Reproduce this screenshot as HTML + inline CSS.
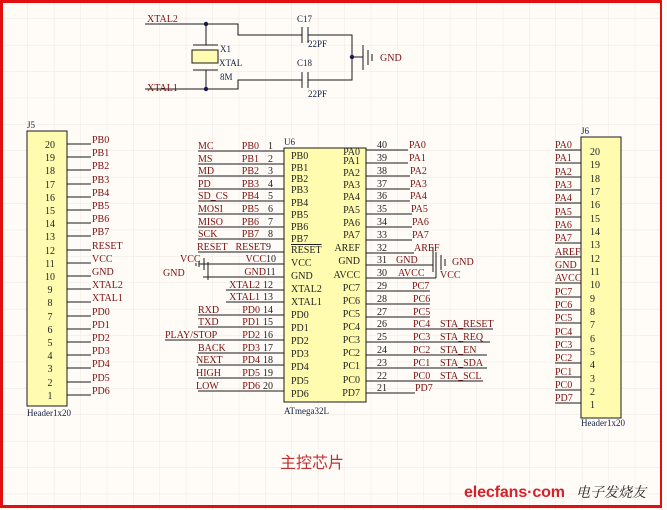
<!DOCTYPE html>
<html><head><meta charset="utf-8"><style>
html,body{margin:0;padding:0;background:#fffcf8;}
svg{display:block;}
.l{font-family:"Liberation Serif",serif;font-size:10px;fill:#7a1010;}
.n{font-family:"Liberation Serif",serif;font-size:10px;fill:#222;}
.c{font-family:"Liberation Serif",serif;font-size:9px;fill:#102040;}
</style></head><body>
<svg width="667" height="510" viewBox="0 0 667 510" xmlns="http://www.w3.org/2000/svg">
<defs><pattern id="g" x="1.6" y="-7.4" width="26.4" height="26.4" patternUnits="userSpaceOnUse"><path d="M26.4 0V26.4M0 26.4H26.4" stroke="#ece6e0" stroke-width="1" fill="none"/></pattern></defs>
<rect width="667" height="510" fill="#fffcf8"/>
<rect width="667" height="510" fill="url(#g)"/>
<rect x="1.5" y="1.5" width="660" height="505" fill="none" stroke="#e01010" stroke-width="3"/>
<rect x="662" y="0" width="5" height="510" fill="#fffcf8"/>
<g stroke="#1a1a1a" stroke-width="1" fill="none">
<path d="M145 24H238V35H302M308 35H352V80H308M302 80H238V89H145"/>
<path d="M302 27V43M308 27V43M302 72V88M308 72V88"/>
<path d="M206 24V45M193 45H218M206 70V89M193 70H218"/>
<rect x="192" y="50" width="26" height="13" fill="#fffcb0"/>
<path d="M352 57H363M363 45V70M368 50V65M372 54V61"/>
<rect x="27" y="131" width="40" height="275" fill="#fffcb0"/>
<path d="M67 144H91M67 157H91M67 170H91M67 184H91M67 197H91M67 210H91M67 223H91M67 236H91M67 250H91M67 263H91M67 276H91M67 289H91M67 302H91M67 316H91M67 329H91M67 342H91M67 355H91M67 368H91M67 382H91M67 395H91"/>
<rect x="284" y="148" width="82" height="254" fill="#fffcb0"/>
<path d="M198 151H284M198 164H284M198 176H284M198 189H284M198 201H284M198 214H284M198 227H284M198 239H284M198 252H284M204 264H284M204 277H284M226 290H284M226 302H284M198 315H284M198 327H284M165 340H284M198 353H284M198 365H284M198 378H284M198 391H284"/>
<path d="M204 258V270M199 264H204M199 261V267M196 263V266M208 262V280M203 277H208"/>
<path d="M366 150H408M366 163H408M366 176H410M366 189H410M366 201H410M366 214H412M366 227H412M366 240H412M366 253H414M366 265H433M366 278H436M366 291H430M366 304H430M366 317H430M366 329H493M366 342H490M366 355H487M366 368H487M366 381H483M366 393H415"/>
<path d="M433 247V272M436 252V278M441 255V270M445 259V266"/>
<rect x="581" y="137" width="40" height="281" fill="#fffcb0"/>
<path d="M555 150H581M555 163H581M555 177H581M555 190H581M555 203H581M555 217H581M555 230H581M555 243H581M555 257H581M555 270H581M555 283H581M555 297H581M555 310H581M555 323H581M555 337H581M555 350H581M555 363H581M555 377H581M555 390H581M555 403H581"/>
</g>
<circle cx="206" cy="24" r="2.2" fill="#1a1a50"/><circle cx="206" cy="89" r="2.2" fill="#1a1a50"/><circle cx="352" cy="57" r="2.2" fill="#1a1a50"/>
<g class="l">
<text x="147" y="22">XTAL2</text><text x="147" y="91">XTAL1</text>
<text x="380" y="61">GND</text>
</g>
<g class="c">
<text x="297" y="22">C17</text><text x="308" y="47">22PF</text><text x="297" y="66">C18</text><text x="308" y="97">22PF</text>
<text x="220" y="52">X1</text><text x="219" y="66">XTAL</text><text x="220" y="80">8M</text>
<text x="27" y="128">J5</text><text x="27" y="416">Header1x20</text>
<text x="284" y="145">U6</text><text x="284" y="414">ATmega32L</text>
<text x="581" y="134">J6</text><text x="581" y="426">Header1x20</text>
</g>
<g class="n" text-anchor="middle">
<text x="50" y="148">20</text><text x="50" y="161">19</text><text x="50" y="174">18</text><text x="50" y="188">17</text><text x="50" y="201">16</text><text x="50" y="214">15</text><text x="50" y="227">14</text><text x="50" y="240">13</text><text x="50" y="254">12</text><text x="50" y="267">11</text><text x="50" y="280">10</text><text x="50" y="293">9</text><text x="50" y="306">8</text><text x="50" y="320">7</text><text x="50" y="333">6</text><text x="50" y="346">5</text><text x="50" y="359">4</text><text x="50" y="372">3</text><text x="50" y="386">2</text><text x="50" y="399">1</text>
</g>
<g class="l">
<text x="92" y="143">PB0</text><text x="92" y="156">PB1</text><text x="92" y="169">PB2</text><text x="92" y="183">PB3</text><text x="92" y="196">PB4</text><text x="92" y="209">PB5</text><text x="92" y="222">PB6</text><text x="92" y="235">PB7</text><text x="92" y="249">RESET</text><text x="92" y="262">VCC</text><text x="92" y="275">GND</text><text x="92" y="288">XTAL2</text><text x="92" y="301">XTAL1</text><text x="92" y="315">PD0</text><text x="92" y="328">PD1</text><text x="92" y="341">PD2</text><text x="92" y="354">PD3</text><text x="92" y="367">PD4</text><text x="92" y="381">PD5</text><text x="92" y="394">PD6</text>
</g>
<g class="l">
<text x="198" y="149">MC</text><text x="198" y="162">MS</text><text x="198" y="174">MD</text><text x="198" y="187">PD</text><text x="198" y="199">SD_CS</text><text x="198" y="212">MOSI</text><text x="198" y="225">MISO</text><text x="198" y="237">SCK</text><text x="197" y="250">RESET</text>
<text x="180" y="262">VCC</text><text x="163" y="276">GND</text>
<text x="198" y="313">RXD</text><text x="198" y="325">TXD</text><text x="165" y="338">PLAY/STOP</text><text x="198" y="351">BACK</text><text x="196" y="363">NEXT</text><text x="196" y="376">HIGH</text><text x="196" y="389">LOW</text>
</g>
<g class="l" text-anchor="end">
<text x="259" y="149">PB0</text><text x="259" y="162">PB1</text><text x="259" y="174">PB2</text><text x="259" y="187">PB3</text><text x="259" y="199">PB4</text><text x="259" y="212">PB5</text><text x="259" y="225">PB6</text><text x="259" y="237">PB7</text><text x="266" y="250">RESET</text><text x="266" y="262">VCC</text><text x="266" y="275">GND</text><text x="260" y="288">XTAL2</text><text x="260" y="300">XTAL1</text><text x="260" y="313">PD0</text><text x="260" y="325">PD1</text><text x="260" y="338">PD2</text><text x="260" y="351">PD3</text><text x="260" y="363">PD4</text><text x="260" y="376">PD5</text><text x="260" y="389">PD6</text>
</g>
<g class="n">
<text x="268" y="149">1</text><text x="268" y="162">2</text><text x="268" y="174">3</text><text x="268" y="187">4</text><text x="268" y="199">5</text><text x="268" y="212">6</text><text x="268" y="225">7</text><text x="268" y="237">8</text><text x="266" y="250">9</text><text x="266" y="262">10</text><text x="266" y="275">11</text><text x="263" y="288">12</text><text x="263" y="300">13</text><text x="263" y="313">14</text><text x="263" y="325">15</text><text x="263" y="338">16</text><text x="263" y="351">17</text><text x="263" y="363">18</text><text x="263" y="376">19</text><text x="263" y="389">20</text>
</g>
<g class="n">
<text x="291" y="159">PB0</text><text x="291" y="171">PB1</text><text x="291" y="182">PB2</text><text x="291" y="193">PB3</text><text x="291" y="206">PB4</text><text x="291" y="218">PB5</text><text x="291" y="230">PB6</text><text x="291" y="242">PB7</text><text x="291" y="253" text-decoration="overline">RESET</text><text x="291" y="266">VCC</text><text x="291" y="279">GND</text><text x="291" y="292">XTAL2</text><text x="291" y="305">XTAL1</text><text x="291" y="318">PD0</text><text x="291" y="331">PD1</text><text x="291" y="344">PD2</text><text x="291" y="357">PD3</text><text x="291" y="370">PD4</text><text x="291" y="384">PD5</text><text x="291" y="397">PD6</text>
</g>
<g class="n" text-anchor="end">
<text x="360" y="155">PA0</text><text x="360" y="164">PA1</text><text x="360" y="176">PA2</text><text x="360" y="188">PA3</text><text x="360" y="200">PA4</text><text x="360" y="213">PA5</text><text x="360" y="226">PA6</text><text x="360" y="238">PA7</text><text x="360" y="251">AREF</text><text x="360" y="264">GND</text><text x="360" y="278">AVCC</text><text x="360" y="291">PC7</text><text x="360" y="304">PC6</text><text x="360" y="317">PC5</text><text x="360" y="330">PC4</text><text x="360" y="343">PC3</text><text x="360" y="356">PC2</text><text x="360" y="369">PC1</text><text x="360" y="383">PC0</text><text x="360" y="396">PD7</text>
</g>
<g class="n">
<text x="377" y="148">40</text><text x="377" y="161">39</text><text x="377" y="174">38</text><text x="377" y="187">37</text><text x="377" y="199">36</text><text x="377" y="212">35</text><text x="377" y="225">34</text><text x="377" y="238">33</text><text x="377" y="251">32</text><text x="377" y="263">31</text><text x="377" y="276">30</text><text x="377" y="289">29</text><text x="377" y="302">28</text><text x="377" y="315">27</text><text x="377" y="327">26</text><text x="377" y="340">25</text><text x="377" y="353">24</text><text x="377" y="366">23</text><text x="377" y="379">22</text><text x="377" y="391">21</text>
</g>
<g class="l">
<text x="409" y="148">PA0</text><text x="409" y="161">PA1</text><text x="410" y="174">PA2</text><text x="410" y="187">PA3</text><text x="410" y="199">PA4</text><text x="411" y="212">PA5</text><text x="412" y="225">PA6</text><text x="412" y="238">PA7</text><text x="414" y="251">AREF</text><text x="396" y="263">GND</text><text x="398" y="276">AVCC</text><text x="412" y="289">PC7</text><text x="413" y="302">PC6</text><text x="413" y="315">PC5</text><text x="413" y="327">PC4</text><text x="413" y="340">PC3</text><text x="413" y="353">PC2</text><text x="413" y="366">PC1</text><text x="413" y="379">PC0</text><text x="415" y="391">PD7</text>
<text x="452" y="265">GND</text><text x="440" y="278">VCC</text>
<text x="440" y="327">STA_RESET</text><text x="440" y="340">STA_REQ</text><text x="440" y="353">STA_EN</text><text x="440" y="366">STA_SDA</text><text x="440" y="379">STA_SCL</text>
</g>
<g class="l">
<text x="555" y="148">PA0</text><text x="555" y="161">PA1</text><text x="555" y="175">PA2</text><text x="555" y="188">PA3</text><text x="555" y="201">PA4</text><text x="555" y="215">PA5</text><text x="555" y="228">PA6</text><text x="555" y="241">PA7</text><text x="555" y="255">AREF</text><text x="555" y="268">GND</text><text x="555" y="281">AVCC</text><text x="555" y="295">PC7</text><text x="555" y="308">PC6</text><text x="555" y="321">PC5</text><text x="555" y="335">PC4</text><text x="555" y="348">PC3</text><text x="555" y="361">PC2</text><text x="555" y="375">PC1</text><text x="555" y="388">PC0</text><text x="555" y="401">PD7</text>
</g>
<g class="n">
<text x="590" y="155">20</text><text x="590" y="168">19</text><text x="590" y="182">18</text><text x="590" y="195">17</text><text x="590" y="208">16</text><text x="590" y="222">15</text><text x="590" y="235">14</text><text x="590" y="248">13</text><text x="590" y="262">12</text><text x="590" y="275">11</text><text x="590" y="288">10</text><text x="590" y="302">9</text><text x="590" y="315">8</text><text x="590" y="328">7</text><text x="590" y="342">6</text><text x="590" y="355">5</text><text x="590" y="368">4</text><text x="590" y="382">3</text><text x="590" y="395">2</text><text x="590" y="408">1</text>
</g>
<text x="280" y="468" font-family="'Liberation Sans','Noto Sans CJK SC',sans-serif" font-size="16" fill="#c03030">主控芯片</text>
<text x="464" y="497" font-family="'Liberation Sans',sans-serif" font-size="16" font-weight="bold" fill="#d8202a" textLength="101">elecfans·com</text>
<text x="576" y="497" font-family="'Liberation Serif','Noto Serif CJK SC',serif" font-size="14" font-style="italic" fill="#222">电子发烧友</text>
</svg>
</body></html>
